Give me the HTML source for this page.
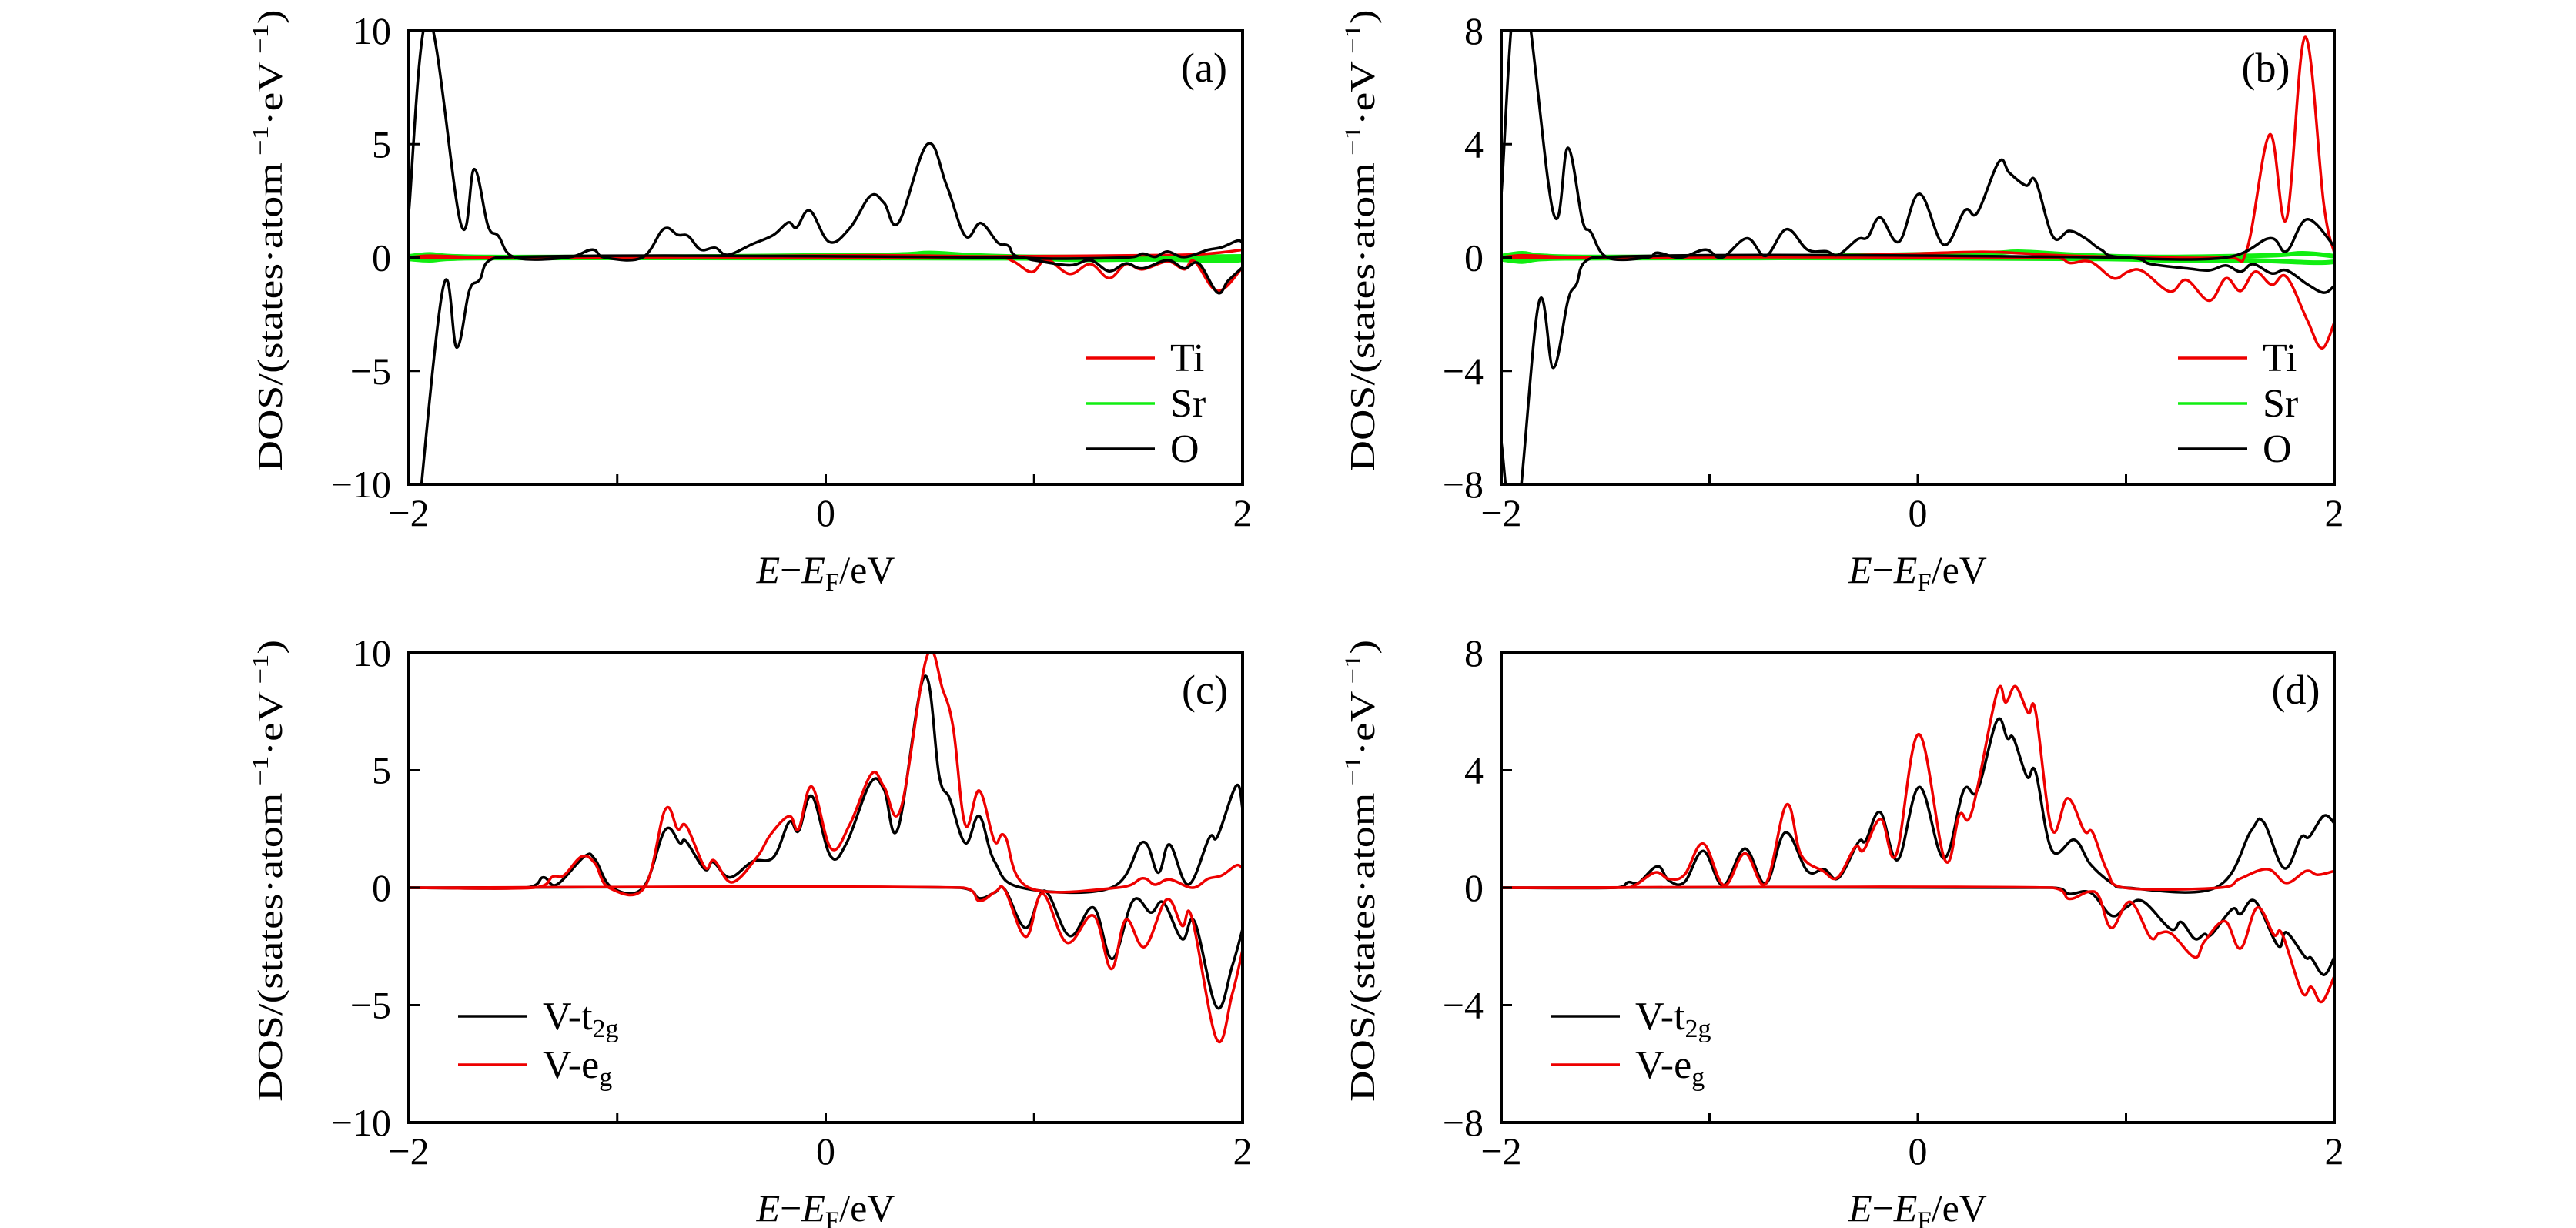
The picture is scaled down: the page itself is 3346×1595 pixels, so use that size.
<!DOCTYPE html>
<html><head><meta charset="utf-8"><style>
html,body{margin:0;padding:0;background:#fff}
svg{display:block}
text{font-family:"Liberation Serif",serif;fill:#000}
</style></head><body>
<svg id="fig" width="3346" height="1595" viewBox="0 0 3346 1595"></svg>
<script>
// ---------- data (energy eV, DOS) ----------
const aTiUp=[[-2,0],[-1.9,0.08],[-1.7,0.02],[-1.5,0],[-0.8,0.05],[-0.5,0.06],[0.2,0.1],[0.5,0.08],[0.8,0.05],[1.5,0.1],[1.8,0.15],[2,0.34]];
const aTiDn=[[-2,0],[0.81,0],[0.9,-0.17],[0.99,-0.64],[1.06,-0.09],[1.17,-0.72],[1.27,-0.29],[1.36,-0.91],[1.44,-0.29],[1.52,-0.52],[1.64,-0.17],[1.72,-0.52],[1.77,-0.17],[1.88,-1.47],[2,-0.43]];
const aSrUp=[[-2,0.05],[-1.9,0.14],[-1.8,0.06],[-1.5,0.02],[-0.5,0.05],[0.3,0.12],[0.5,0.2],[0.7,0.1],[1,0.03],[1.5,0.02],[2,0.05]];
const aSrDn=[[-2,-0.06],[-1.9,-0.12],[-1.8,-0.05],[-1.5,-0.02],[0,-0.02],[0.9,-0.03],[1.2,-0.1],[1.6,-0.08],[1.9,-0.15],[2,-0.1]];
const aOUp=[[-2,2.0],[-1.907,10.6],[-1.75,1.47],[-1.686,3.9],[-1.62,1.4],[-1.57,0.95],[-1.49,0],[-1.24,0],[-1.12,0.35],[-1.06,0],[-0.88,0],[-0.777,1.26],[-0.71,1.0],[-0.66,0.95],[-0.6,0.35],[-0.53,0.43],[-0.47,0.12],[-0.35,0.6],[-0.25,1.0],[-0.18,1.55],[-0.14,1.33],[-0.076,2.07],[0.017,0.69],[0.116,1.3],[0.215,2.72],[0.28,2.41],[0.35,1.55],[0.488,5.0],[0.58,3.19],[0.67,0.95],[0.744,1.52],[0.826,0.66],[0.876,0.52],[0.94,0],[1.44,0],[1.52,0.17],[1.58,0.03],[1.64,0.26],[1.72,0.02],[1.835,0.34],[1.9,0.45],[1.975,0.74],[2,0.65]];
const aODn=[[-2,-16],[-1.84,-1.55],[-1.77,-3.97],[-1.71,-1.47],[-1.66,-0.98],[-1.58,0],[0.91,0],[1.0,-0.12],[1.17,-0.34],[1.27,-0.12],[1.36,-0.6],[1.44,-0.26],[1.52,-0.48],[1.64,-0.12],[1.72,-0.48],[1.79,-0.26],[1.88,-1.55],[1.93,-1.03],[2,-0.43]];

const bTiUp=[[-2,0],[-1.9,0.08],[-1.7,0.02],[-1.5,0],[-0.6,0.05],[-0.1,0.12],[0.3,0.2],[0.5,0.15],[0.8,0.05],[1.48,0],[1.58,0.28],[1.69,4.34],[1.77,1.35],[1.86,7.78],[1.95,1.86],[2,0.17]];
const bTiDn=[[-2,0],[0.65,0],[0.73,-0.19],[0.83,-0.15],[0.94,-0.73],[1.01,-0.5],[1.08,-0.48],[1.21,-1.2],[1.29,-0.79],[1.4,-1.52],[1.48,-0.73],[1.55,-1.18],[1.62,-0.5],[1.7,-0.96],[1.77,-0.68],[1.87,-2.2],[1.94,-3.2],[2,-2.3]];
const bSrUp=[[-2,0.05],[-1.9,0.15],[-1.8,0.06],[-1.5,0.02],[-0.5,0.05],[0.3,0.15],[0.5,0.2],[0.8,0.08],[1.2,0.02],[1.7,0.08],[1.85,0.15],[2,0.05]];
const bSrDn=[[-2,-0.06],[-1.9,-0.14],[-1.8,-0.05],[-1.5,-0.02],[0,-0.02],[0.9,-0.05],[1.3,-0.12],[1.6,-0.1],[1.9,-0.18],[2,-0.15]];
const bOUp=[[-2,2.2],[-1.91,10],[-1.75,1.58],[-1.68,3.87],[-1.61,1.3],[-1.57,0.9],[-1.49,0],[-1.3,0],[-1.25,0.17],[-1.14,0],[-1.02,0.28],[-0.94,0],[-0.82,0.68],[-0.73,0.06],[-0.63,1.0],[-0.53,0.28],[-0.44,0.22],[-0.38,0.1],[-0.29,0.64],[-0.24,0.72],[-0.18,1.41],[-0.09,0.56],[0.008,2.25],[0.125,0.45],[0.226,1.66],[0.286,1.58],[0.39,3.38],[0.44,2.99],[0.52,2.54],[0.566,2.7],[0.65,0.73],[0.727,0.94],[0.805,0.68],[0.88,0.28],[0.99,0],[1.48,0],[1.69,0.68],[1.77,0.22],[1.87,1.35],[2,0.4]];
const bODn=[[-2,-6.5],[-1.93,-9.5],[-1.82,-1.61],[-1.75,-3.89],[-1.68,-1.52],[-1.64,-0.96],[-1.56,0],[0.99,0],[1.12,-0.23],[1.3,-0.39],[1.4,-0.45],[1.48,-0.28],[1.55,-0.5],[1.61,-0.23],[1.7,-0.56],[1.77,-0.45],[1.87,-0.94],[1.95,-1.24],[2,-1.0]];

const cT2gUp=[[-2,0],[-1.44,0],[-1.355,0.44],[-1.29,0.13],[-1.157,1.33],[-1.107,1.21],[-1.025,0],[-0.876,0],[-0.77,2.46],[-0.70,1.9],[-0.67,1.98],[-0.58,0.78],[-0.54,1.09],[-0.46,0.44],[-0.35,1.12],[-0.25,1.3],[-0.175,2.8],[-0.13,2.41],[-0.066,3.9],[0.023,1.35],[0.1,1.9],[0.215,4.47],[0.28,4.18],[0.347,2.53],[0.473,8.99],[0.545,4.73],[0.595,3.79],[0.67,1.9],[0.737,3.05],[0.81,1.12],[0.94,0],[1.37,0],[1.52,1.94],[1.595,0.64],[1.65,1.84],[1.74,0.13],[1.84,2.12],[1.88,2.19],[1.97,4.35],[2,3.36]];
const cEgUp=[[-2,0],[-1.4,0],[-1.31,0.47],[-1.256,0.52],[-1.17,1.33],[-1.107,1.04],[-1.04,0],[-0.87,0],[-0.77,3.32],[-0.71,2.5],[-0.668,2.62],[-0.58,0.87],[-0.535,1.16],[-0.45,0.23],[-0.33,1.3],[-0.264,2.27],[-0.175,3.05],[-0.13,2.5],[-0.066,4.3],[0.026,1.67],[0.116,2.7],[0.22,4.85],[0.28,4.3],[0.36,3.36],[0.486,9.85],[0.562,8.42],[0.612,6.79],[0.67,2.67],[0.737,4.13],[0.81,1.98],[0.86,2.19],[0.975,0],[1.4,0],[1.52,0.4],[1.58,0.13],[1.65,0.35],[1.76,0],[1.835,0.38],[1.9,0.52],[1.97,0.95],[2,0.82]];
const cT2gDn=[[-2,0],[0.645,0],[0.737,-0.45],[0.81,-0.21],[0.86,-0.08],[0.96,-1.71],[1.05,-0.13],[1.17,-2.05],[1.285,-0.85],[1.375,-3.03],[1.475,-0.54],[1.56,-1.06],[1.62,-0.63],[1.71,-2.19],[1.77,-1.45],[1.876,-5.09],[1.95,-3.34],[2,-1.76]];
const cEgDn=[[-2,0],[0.66,0],[0.737,-0.56],[0.816,-0.16],[0.86,-0.1],[0.96,-2.09],[1.04,-0.25],[1.157,-2.34],[1.285,-1.19],[1.37,-3.46],[1.44,-1.36],[1.53,-2.52],[1.636,-0.5],[1.71,-1.62],[1.757,-1.28],[1.876,-6.46],[1.95,-4.54],[2,-2.65]];

const dT2gUp=[[-2,0],[-1.45,0],[-1.39,0.19],[-1.34,0.17],[-1.25,0.73],[-1.195,0.24],[-1.12,0.19],[-1.03,1.25],[-0.935,0.08],[-0.83,1.33],[-0.73,0.14],[-0.636,1.88],[-0.53,0.57],[-0.45,0.63],[-0.38,0.33],[-0.285,1.55],[-0.25,1.6],[-0.18,2.57],[-0.096,0.95],[0.008,3.43],[0.125,1.0],[0.22,3.31],[0.286,3.31],[0.38,5.69],[0.43,5.09],[0.46,5.09],[0.525,3.78],[0.566,3.94],[0.644,1.28],[0.753,1.63],[0.83,0.79],[0.935,0.14],[1.0,0],[1.43,0],[1.6,1.93],[1.66,2.24],[1.76,0.66],[1.84,1.71],[1.88,1.73],[1.95,2.45],[2,2.2]];
const dEgUp=[[-2,0],[-1.44,0],[-1.36,0.08],[-1.26,0.52],[-1.195,0.3],[-1.12,0.44],[-1.03,1.5],[-0.93,0.08],[-0.83,1.17],[-0.73,0.14],[-0.63,2.83],[-0.56,1.12],[-0.455,0.57],[-0.385,0.35],[-0.3,1.39],[-0.26,1.28],[-0.177,2.34],[-0.104,1.12],[0.005,5.23],[0.13,0.95],[0.2,2.48],[0.26,2.59],[0.38,6.64],[0.423,6.31],[0.47,6.86],[0.53,5.96],[0.566,6.0],[0.644,1.99],[0.72,3.05],[0.8,1.93],[0.84,1.88],[0.91,0.57],[0.99,0],[1.45,0],[1.545,0.3],[1.68,0.63],[1.77,0.16],[1.865,0.57],[1.92,0.44],[2,0.57]];
const dT2gDn=[[-2,0],[0.65,0],[0.727,-0.21],[0.83,-0.17],[0.93,-0.95],[1.0,-0.68],[1.08,-0.46],[1.215,-1.41],[1.265,-1.17],[1.33,-1.74],[1.377,-1.58],[1.41,-1.6],[1.51,-0.73],[1.55,-0.9],[1.62,-0.46],[1.73,-1.98],[1.77,-1.52],[1.86,-2.36],[1.89,-2.4],[1.95,-2.97],[2,-2.37]];
const dEgDn=[[-2,0],[0.645,0],[0.727,-0.38],[0.82,-0.14],[0.87,-0.3],[0.93,-1.37],[1.02,-0.48],[1.117,-1.69],[1.16,-1.55],[1.22,-1.58],[1.33,-2.37],[1.377,-1.83],[1.475,-1.14],[1.55,-2.07],[1.63,-0.68],[1.71,-1.6],[1.75,-1.58],[1.845,-3.56],[1.89,-3.38],[1.94,-3.89],[2,-3.02]];

const xTicks=[-2,-1,0,1,2];
const xTickLabels=["−2","","0","","2"];
const yTicksA=[-10,-5,0,5,10];
const yTicksB=[-8,-4,0,4,8];

// ---------- drawing ----------
const NS="http://www.w3.org/2000/svg";
const svg=document.getElementById('fig');
function mk(tag,attrs,parent){const e=document.createElementNS(NS,tag);for(const k in attrs)e.setAttribute(k,attrs[k]);(parent||svg).appendChild(e);return e;}

function spline(pts){
  let d="M"+pts[0][0].toFixed(1)+","+pts[0][1].toFixed(1);
  for(let i=0;i<pts.length-1;i++){
    const p0=pts[Math.max(0,i-1)],p1=pts[i],p2=pts[i+1],p3=pts[Math.min(pts.length-1,i+2)];
    const t=0.18;
    let c1x=p1[0]+(p2[0]-p0[0])*t,c1y=p1[1]+(p2[1]-p0[1])*t;
    let c2x=p2[0]-(p3[0]-p1[0])*t,c2y=p2[1]-(p3[1]-p1[1])*t;
    c1x=Math.min(Math.max(c1x,p1[0]),p2[0]);c2x=Math.min(Math.max(c2x,p1[0]),p2[0]);
    d+=" C"+c1x.toFixed(1)+","+c1y.toFixed(1)+" "+c2x.toFixed(1)+","+c2y.toFixed(1)+" "+p2[0].toFixed(1)+","+p2[1].toFixed(1);
  }
  return d;
}

function panel(o){
  const g=mk('g',{});
  
  
  const L=o.x0,R=o.x1,T=o.y0,B=o.y1,ym=o.ymax;
  const sx=e=>L+(e+2)/4*(R-L);
  const sy=v=>T+(ym-v)/(2*ym)*(B-T);
  const cid='clip-'+o.name;
  const cp=mk('clipPath',{id:cid},g);
  mk('rect',{x:L,y:T,width:R-L,height:B-T},cp);
  const cg=mk('g',{'clip-path':'url(#'+cid+')'},g);
  o.series.forEach(s=>{
    const p=mk('path',{d:spline(s.data.map(q=>[sx(q[0]),sy(q[1])])),fill:'none',stroke:s.color,'stroke-width':s.w||3.5,'stroke-linejoin':'round'},cg);
    
    
  });
  const fr=mk('rect',{x:L,y:T,width:R-L,height:B-T,fill:'none',stroke:'#000','stroke-width':4},g);
  
  
  xTicks.forEach((t,i)=>{
    const x=sx(t);
    if(i>0&&i<xTicks.length-1){const tk=mk('line',{x1:x,x2:x,y1:B,y2:B-13,stroke:'#000','stroke-width':3},g);
      }
    if(xTickLabels[i]){const tl=mk('text',{x:x,y:B+54,'font-size':50,'text-anchor':'middle'},g);tl.textContent=xTickLabels[i];
      }
  });
  o.yticks.forEach(t=>{
    const y=sy(t);
    if(t!==o.yticks[0]&&t!==o.yticks[o.yticks.length-1]){const tk=mk('line',{x1:L,x2:L+14,y1:y,y2:y,stroke:'#000','stroke-width':3},g);
      }
    const tl=mk('text',{x:L-23,y:y+17,'font-size':50,'text-anchor':'end'},g);
    tl.textContent=(t<0?"−"+(-t):String(t));
    
  });
  const yt=mk('text',{x:0,y:0,'font-size':46,transform:'translate('+(L-165)+','+((T+B)/2-22)+') rotate(-90)','text-anchor':'middle',textLength:600,lengthAdjust:'spacingAndGlyphs'},g);
  yt.innerHTML='DOS/(states·atom<tspan font-size="30" dy="-18"> −1</tspan><tspan dy="18">·eV</tspan><tspan font-size="30" dy="-18"> −1</tspan><tspan dy="18">)</tspan>';
  
  const xt=mk('text',{x:(L+R)/2,y:B+128,'font-size':50,'text-anchor':'middle'},g);
  xt.innerHTML='<tspan font-style="italic">E</tspan>−<tspan font-style="italic">E</tspan><tspan font-size="33" dy="10">F</tspan><tspan dy="-10">/eV</tspan>';
  
  const pl=mk('text',{x:o.labelX,y:T+66,'font-size':54,'text-anchor':'middle'},g);
  pl.textContent=o.label;
  
  o.legend.forEach(le=>{
    const lg=mk('g',{},g);
    
    mk('line',{x1:L+le.dx,x2:L+le.dx+90,y1:T+le.dy,y2:T+le.dy,stroke:le.color,'stroke-width':3.5},lg);
    const tx=mk('text',{x:L+le.dx+110,y:T+le.dy+17,'font-size':52},lg);
    tx.innerHTML=le.html;
  });
}

const TOP={y0:40,y1:629}, BOT={y0:848,y1:1458};
const leg3=[{dx:879,dy:425,color:'#e00',html:'Ti'},{dx:879,dy:484,color:'#1e1',html:'Sr'},{dx:879,dy:543,color:'#000',html:'O'}];
const leg2=[{dx:64,dy:472,color:'#000',html:'V-t<tspan font-size="34" dy="10">2g</tspan>'},{dx:64,dy:535,color:'#e00',html:'V-e<tspan font-size="34" dy="10">g</tspan>'}];
panel({name:'panel-a',label:'(a)',labelX:1564,x0:531,x1:1614,y0:TOP.y0,y1:TOP.y1,ymax:10,yticks:yTicksA,legend:leg3,
 series:[{name:'sr-up',data:aSrUp,color:'#1e1',w:6},{name:'sr-down',data:aSrDn,color:'#1e1',w:6},{name:'ti-up',data:aTiUp,color:'#e00'},{name:'ti-down',data:aTiDn,color:'#e00'},{name:'o-up',data:aOUp,color:'#000'},{name:'o-down',data:aODn,color:'#000'}]});
panel({name:'panel-b',label:'(b)',labelX:2943,x0:1950,x1:3032,y0:TOP.y0,y1:TOP.y1,ymax:8,yticks:yTicksB,legend:leg3,
 series:[{name:'sr-up',data:bSrUp,color:'#1e1',w:6},{name:'sr-down',data:bSrDn,color:'#1e1',w:6},{name:'ti-up',data:bTiUp,color:'#e00'},{name:'ti-down',data:bTiDn,color:'#e00'},{name:'o-up',data:bOUp,color:'#000'},{name:'o-down',data:bODn,color:'#000'}]});
panel({name:'panel-c',label:'(c)',labelX:1565,x0:531,x1:1614,y0:BOT.y0,y1:BOT.y1,ymax:10,yticks:yTicksA,legend:leg2,
 series:[{name:'t2g-up',data:cT2gUp,color:'#000'},{name:'t2g-down',data:cT2gDn,color:'#000'},{name:'eg-up',data:cEgUp,color:'#e00'},{name:'eg-down',data:cEgDn,color:'#e00'}]});
panel({name:'panel-d',label:'(d)',labelX:2982,x0:1950,x1:3032,y0:BOT.y0,y1:BOT.y1,ymax:8,yticks:yTicksB,legend:leg2,
 series:[{name:'t2g-up',data:dT2gUp,color:'#000'},{name:'t2g-down',data:dT2gDn,color:'#000'},{name:'eg-up',data:dEgUp,color:'#e00'},{name:'eg-down',data:dEgDn,color:'#e00'}]});
</script>
</body></html>
